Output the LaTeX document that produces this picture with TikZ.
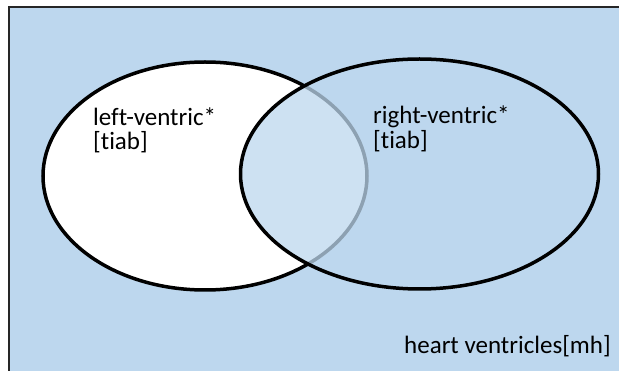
\documentclass[tikz,border=0pt]{standalone}
\usepackage{fontspec}
\setmainfont{Carlito}[Ligatures={NoCommon}]
\definecolor{bgblue}{HTML}{BDD7EE}
\definecolor{frame}{HTML}{262626}
\begin{document}
\begin{tikzpicture}[x=1pt,y=-1pt,
  setline/.style={draw=black,line width=3.5pt},
  lbl/.style={anchor=base west,inner sep=0pt,font=\fontsize{25}{25}\selectfont,text=black}]
\useasboundingbox (0,0) rectangle (619,371);
\fill[bgblue] (9,7) rectangle (619,371);
\draw[frame,line width=1.2pt] (9,371) -- (9,7) -- (619,7);
\path[setline,fill=white] (205,176) ellipse [x radius=162,y radius=114];
\path[setline,fill=bgblue,fill opacity=0.75] (419.5,174) ellipse [x radius=179,y radius=115];
\node[lbl] (l1) at (93,126) {left-ventric*};
\node[lbl] (l2) at (93,150) {[tiab]};
\node[lbl] (r1) at (373,124) {right-ventric*};
\node[lbl] (r2) at (373,149) {[tiab]};
\node[lbl] (h) at (404,354) {heart ventricles[mh]};
\end{tikzpicture}
\end{document}
